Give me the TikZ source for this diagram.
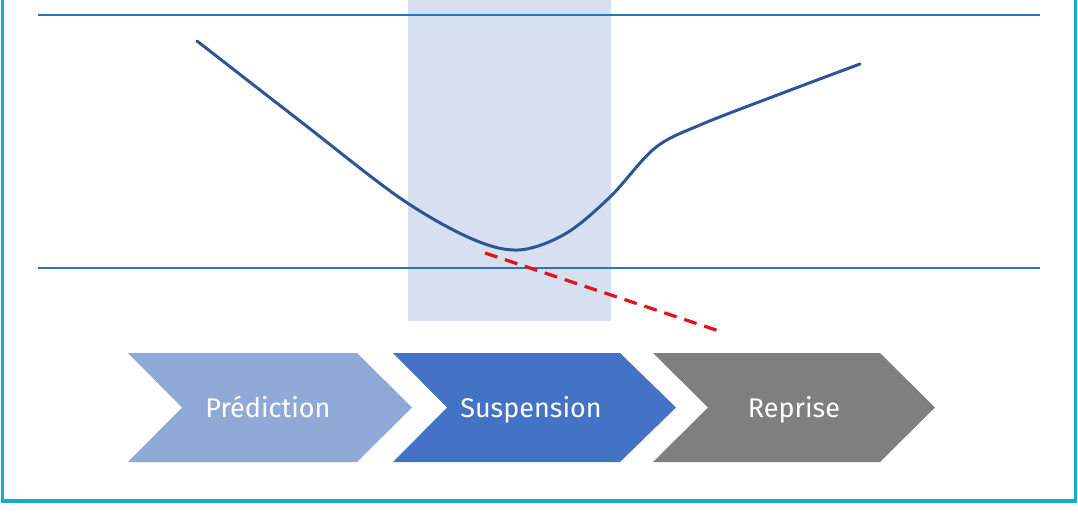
\documentclass[tikz,border=0pt]{standalone}
\usepackage{fontspec}
\setmainfont{Fira Sans}
\definecolor{frame}{RGB}{20,170,210}
\definecolor{axisblue}{RGB}{46,117,182}
\definecolor{curveblue}{RGB}{47,85,151}
\definecolor{bandfill}{RGB}{214,224,240}
\definecolor{chevA}{RGB}{143,170,214}
\definecolor{chevB}{RGB}{68,114,196}
\definecolor{chevC}{RGB}{127,127,127}
\definecolor{dashred}{RGB}{225,20,30}
\tikzset{
  hline/.style={draw=axisblue, line width=1pt},
  chevlabel/.style={text=white, font=\fontsize{13.5}{15}\selectfont, anchor=base, inner sep=0pt},
}
\begin{document}
\begin{tikzpicture}[x=0.5pt, y=-0.5pt]
\useasboundingbox (0,0) rectangle (1078,516);
\fill[white] (0,0) rectangle (1078,516);
% shaded band
\fill[bandfill] (408,0) rectangle (611,321);
% frame
\draw[frame, line width=1.6pt] (2.5,-5) -- (2.5,501) -- (1075.5,501) -- (1075.5,-5);
% horizontal lines
\draw[hline] (38,15) -- (1040,15);
\draw[hline] (38,267.5) -- (1040,267.5);
% curve
\draw[curveblue, line width=1.5pt, line cap=round]
  plot[smooth, tension=0.55] coordinates {(197,41) (300,121) (400,198) (470,238) (518,250) (565,234) (610,197) (655,148) (700,125) (780,94) (860,64)};
% red dashed
\draw[dashred, line width=1.6pt, dash pattern=on 6.5pt off 4pt] (485,253) -- (722,332);
% chevrons
\fill[chevA] (128,353) -- (357,353) -- (412,407.5) -- (357,462) -- (128,462) -- (182,407.5) -- cycle;
\fill[chevB] (393,353) -- (620,353) -- (676,407.5) -- (620,462) -- (393,462) -- (447,407.5) -- cycle;
\fill[chevC] (653,353) -- (880,353) -- (935,407.5) -- (880,462) -- (653,462) -- (708,407.5) -- cycle;
\node[chevlabel] (pred) at (268,417) {Prédiction};
\node[chevlabel] (susp) at (531,417) {Suspension};
\node[chevlabel] (repr) at (794,417) {Reprise};
\end{tikzpicture}
\end{document}
